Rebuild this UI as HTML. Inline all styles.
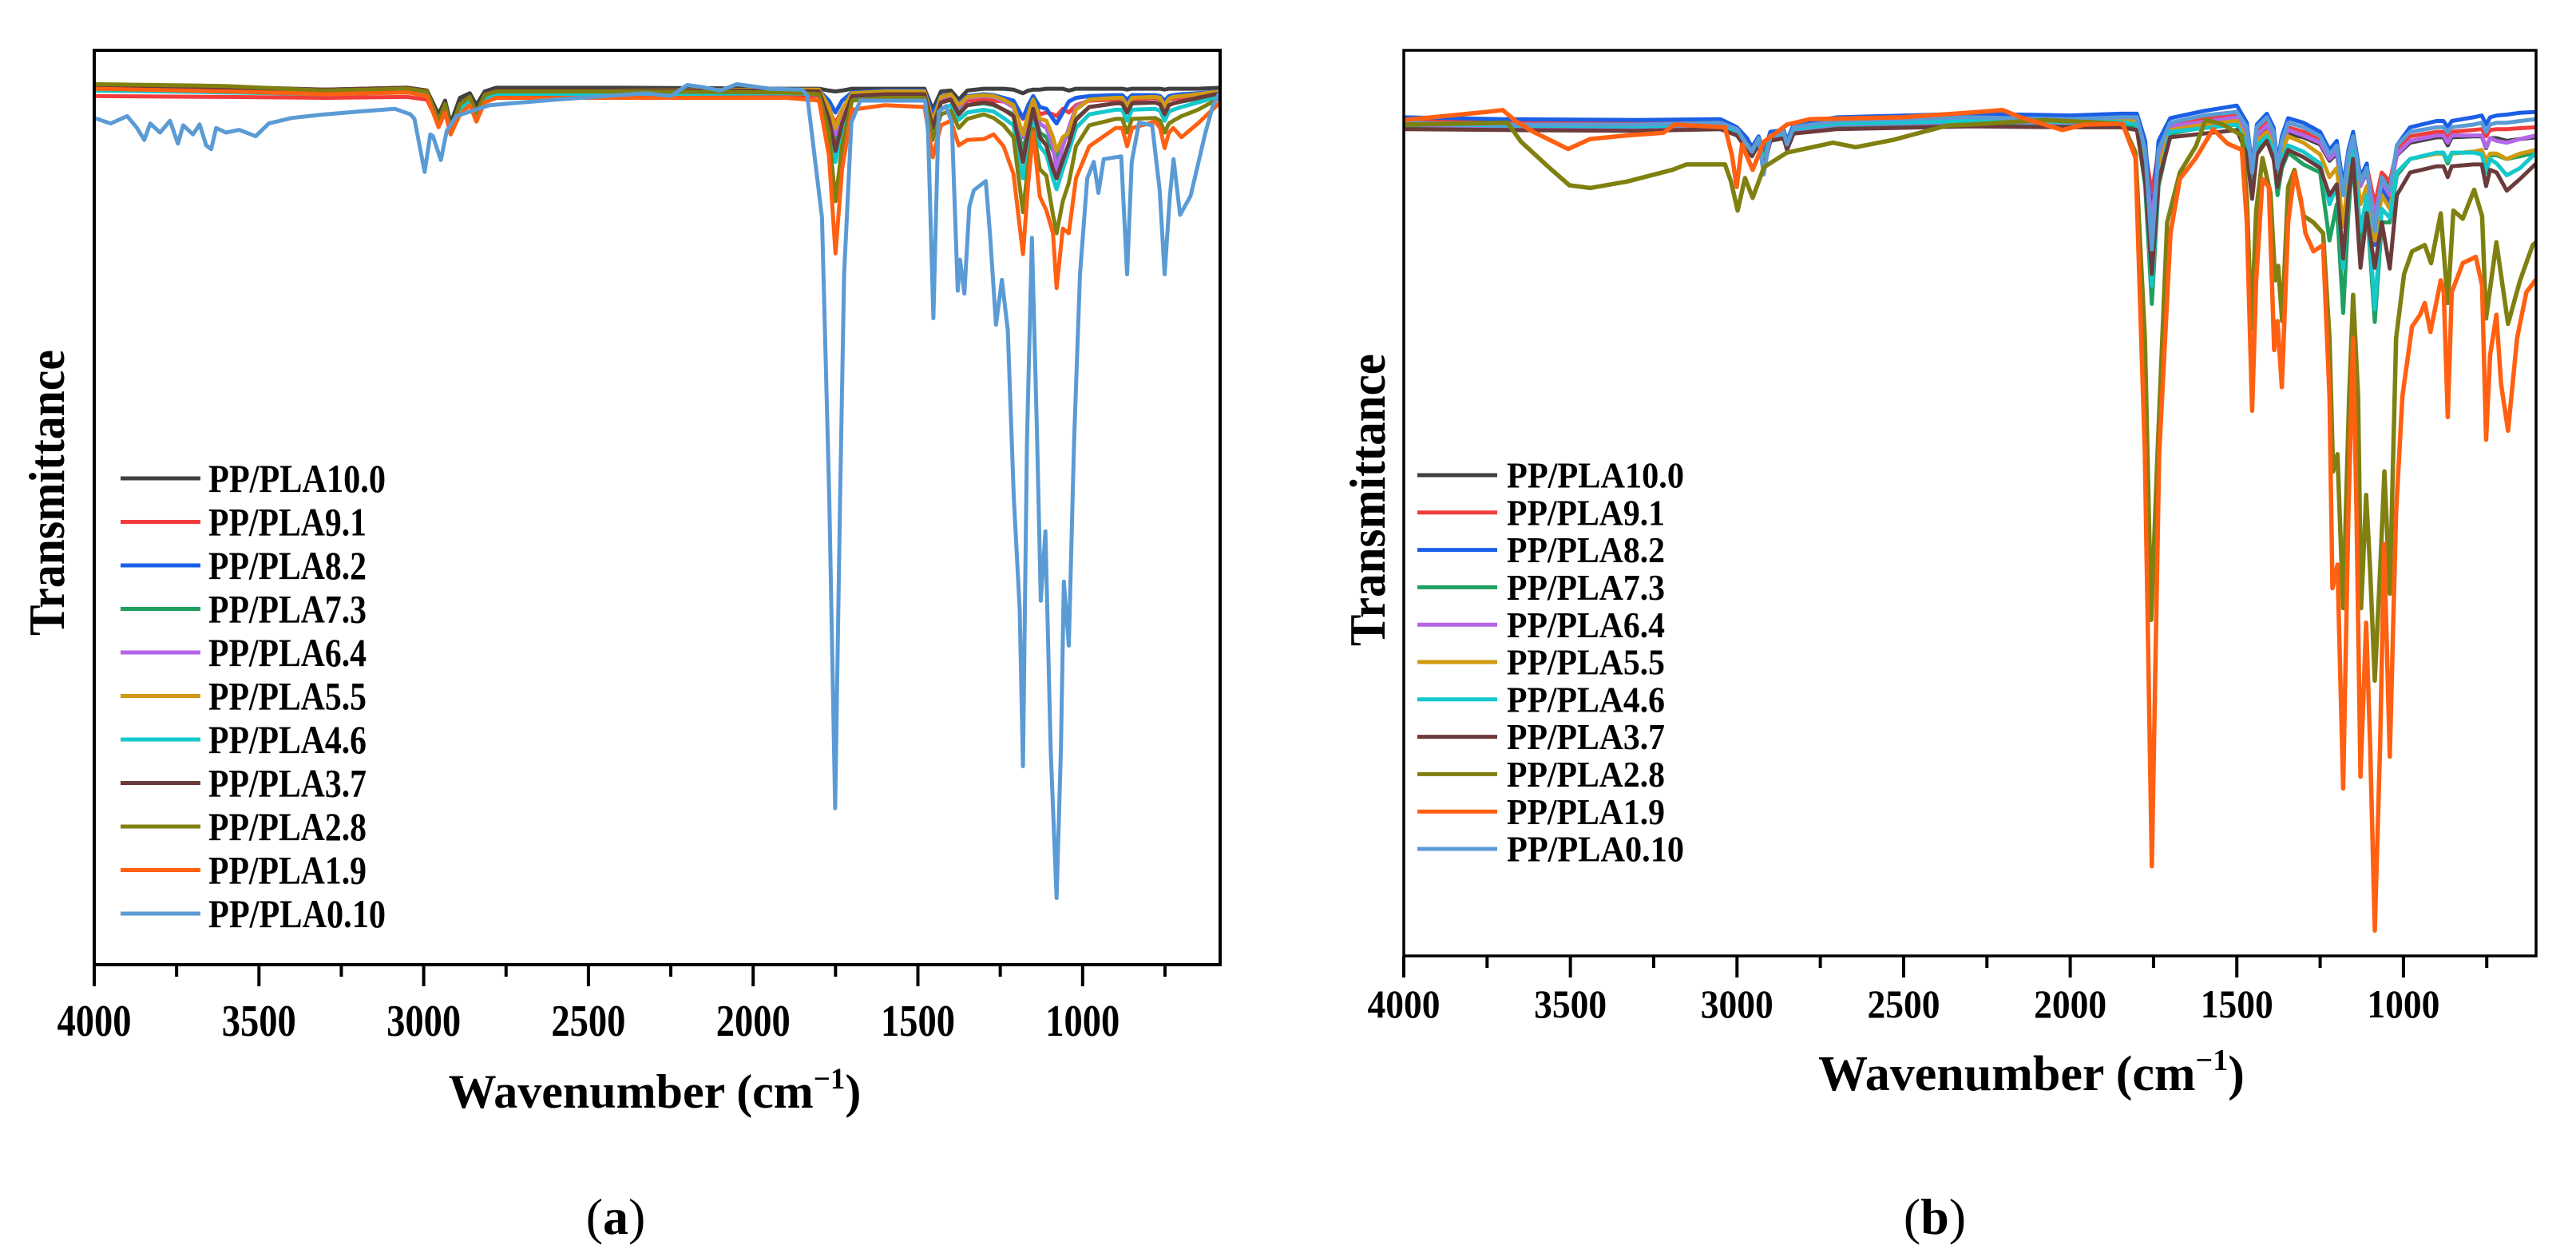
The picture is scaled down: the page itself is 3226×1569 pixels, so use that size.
<!DOCTYPE html>
<html><head><meta charset="utf-8"><title>FTIR spectra PP/PLA</title>
<style>
html,body{margin:0;padding:0;background:#fff;}
svg{display:block;font-family:"Liberation Serif",serif;font-weight:bold;}
</style></head>
<body>
<svg id="fig" width="3226" height="1569" viewBox="0 0 3226 1569" xmlns="http://www.w3.org/2000/svg">
<rect x="0" y="0" width="3226" height="1569" fill="#fff"/>
<defs>
<clipPath id="clipA"><rect x="118" y="63" width="1410" height="1145"/></clipPath>
<clipPath id="clipB"><rect x="1758" y="63" width="1418" height="1134"/></clipPath>
</defs>
<g id="panelA">
<g id="seriesA" clip-path="url(#clipA)"></g>
<rect x="118" y="63" width="1410" height="1145" fill="none" stroke="#000" stroke-width="4"/>
<g id="ticksA"></g>
<g id="legendA"></g>
<text x="820" y="1387" text-anchor="middle" font-size="60">Wavenumber (cm<tspan dy="-24" font-size="37">−1</tspan><tspan dy="24">)</tspan></text>
<text transform="translate(80,617) rotate(-90)" text-anchor="middle" font-size="64" textLength="358" lengthAdjust="spacingAndGlyphs">Transmittance</text>
<text x="771" y="1545" text-anchor="middle" font-size="64"><tspan font-weight="normal">(</tspan>a<tspan font-weight="normal">)</tspan></text>
</g>
<g id="panelB">
<g id="seriesB" clip-path="url(#clipB)"></g>
<rect x="1758" y="63" width="1418" height="1134" fill="none" stroke="#000" stroke-width="3.5"/>
<g id="ticksB"></g>
<g id="legendB"></g>
<text x="2544" y="1365" text-anchor="middle" font-size="62">Wavenumber (cm<tspan dy="-25" font-size="38">−1</tspan><tspan dy="25">)</tspan></text>
<text transform="translate(1734,626) rotate(-90)" text-anchor="middle" font-size="64" textLength="366" lengthAdjust="spacingAndGlyphs">Transmittance</text>
<text x="2423" y="1545" text-anchor="middle" font-size="64"><tspan font-weight="normal">(</tspan>b<tspan font-weight="normal">)</tspan></text>
</g>
</svg>
<script>
// ---------- shared ----------
const seriesNames = ["PP/PLA10.0","PP/PLA9.1","PP/PLA8.2","PP/PLA7.3","PP/PLA6.4","PP/PLA5.5","PP/PLA4.6","PP/PLA3.7","PP/PLA2.8","PP/PLA1.9","PP/PLA0.10"];
const seriesColors = ["#404040","#f23c3c","#1a5fe6","#20a060","#b266e8","#d09a10","#14c8cc","#6b3b3b","#7f8010","#ff6012","#5b9bd5"];
const tickMajor = [4000,3500,3000,2500,2000,1500,1000];
const tickMinor = [3750,3250,2750,2250,1750,1250,750];

// ---------- panel (a) data ----------
const gridA = [4000,3600,3300,3050,2990,2955,2935,2918,2890,2860,2840,2815,2780,2400,1900,1800,1770,1750,1730,1700,1600,1480,1455,1430,1400,1376,1350,1300,1270,1240,1210,1181,1165,1150,1130,1110,1090,1079,1060,1042,1020,980,900,880,865,850,780,765,751,738,725,700,650,583];
const a_PLA10_0 = [96.2,96.0,95.7,95.9,95.6,93.0,94.5,92.0,94.8,95.3,94.0,95.5,95.9,95.9,95.8,95.8,95.6,95.5,95.6,95.8,95.8,95.8,93.5,95.5,95.6,94.6,95.6,95.8,95.8,95.8,95.7,95.3,95.6,95.7,95.7,95.8,95.8,95.8,95.8,95.6,95.8,95.8,95.8,95.8,95.7,95.8,95.8,95.8,95.7,95.8,95.8,95.8,95.8,95.9];
const a_PLA9_1 = [95.0,94.9,94.8,94.9,94.6,92.0,93.5,91.0,93.5,94.3,92.5,94.3,94.8,94.8,95.0,95.0,93.5,92.0,93.5,94.8,95.0,95.0,92.5,94.5,94.7,93.8,94.5,94.6,94.5,94.4,94.2,92.5,93.8,94.5,93.0,93.2,93.0,92.8,93.6,93.2,94.0,94.5,94.6,94.6,94.0,94.6,94.8,94.6,94.0,94.6,94.7,94.8,95.0,95.3];
const a_PLA8_2 = [95.6,95.5,95.3,95.5,95.2,92.3,94.0,91.3,94.0,94.8,93.0,95.0,95.4,95.5,95.6,95.6,94.5,93.2,94.5,95.4,95.6,95.6,93.0,95.0,95.2,94.2,95.0,95.2,95.1,94.8,94.5,92.6,94.0,95.0,93.8,93.6,92.5,92.0,93.2,94.4,94.8,95.0,95.1,95.1,94.6,95.1,95.1,95.0,94.5,95.0,95.1,95.2,95.3,95.5];
const a_PLA7_3 = [95.8,95.6,95.4,95.6,95.3,92.0,93.8,91.0,93.8,94.6,92.8,94.8,95.3,95.3,95.4,95.4,93.0,89.6,92.5,95.0,95.2,95.2,91.5,94.3,94.6,93.2,94.0,94.2,94.0,93.5,93.0,89.0,91.5,93.5,91.0,90.5,89.0,88.2,90.0,90.8,92.5,93.8,94.2,94.2,93.2,94.2,94.3,94.1,93.2,94.0,94.2,94.4,94.7,95.2];
const a_PLA6_4 = [95.9,95.7,95.5,95.7,95.4,92.2,94.0,91.2,94.0,94.8,93.0,95.0,95.4,95.5,95.6,95.6,93.8,90.8,93.2,95.2,95.4,95.4,92.0,94.8,95.1,93.8,94.8,95.0,94.9,94.4,93.8,90.5,92.8,94.5,92.0,91.5,89.5,86.9,89.5,91.5,93.8,94.6,94.8,94.8,94.0,94.8,94.9,94.8,94.0,94.7,94.9,95.0,95.2,95.5];
const a_PLA5_5 = [96.0,95.8,95.6,95.8,95.5,92.3,94.1,91.3,94.1,94.9,93.1,95.1,95.5,95.6,95.7,95.7,93.8,91.5,93.5,95.3,95.5,95.5,92.2,94.9,95.2,94.0,94.9,95.1,95.0,94.6,94.0,90.8,93.0,94.6,92.5,92.3,90.5,89.0,90.5,91.0,93.5,94.6,94.8,94.8,93.8,94.8,94.9,94.8,93.9,94.7,94.9,95.0,95.2,95.5];
const a_PLA4_6 = [95.6,95.4,95.2,95.4,95.1,91.8,93.6,90.8,93.6,94.4,92.6,94.6,95.1,95.2,95.3,95.2,92.2,87.8,91.5,94.8,95.0,95.0,90.5,93.6,94.0,92.4,93.2,93.5,93.3,92.6,91.8,86.0,89.8,92.8,89.5,88.6,86.0,84.8,87.0,89.0,91.5,93.0,93.5,93.5,92.3,93.5,93.6,93.4,92.3,93.3,93.5,93.8,94.3,95.0];
const a_PLA3_7 = [96.1,95.9,95.7,95.9,95.6,92.4,94.2,91.4,94.2,95.0,93.2,95.2,95.6,95.6,95.6,95.5,92.5,89.0,92.0,95.0,95.2,95.2,91.5,94.3,94.6,93.0,94.0,94.3,94.1,93.5,92.8,87.8,91.0,93.6,90.5,89.6,87.0,86.0,88.0,89.8,92.4,93.8,94.2,94.2,93.2,94.2,94.3,94.1,93.0,94.0,94.2,94.4,94.8,95.3];
const a_PLA2_8 = [96.3,96.1,95.6,95.8,95.5,92.3,94.1,91.3,94.1,94.9,93.1,95.1,95.5,95.5,95.4,95.2,91.0,83.5,89.5,94.5,94.8,94.8,90.2,93.0,93.4,91.5,92.5,93.0,92.6,91.8,90.5,82.3,87.5,91.4,87.0,86.3,82.0,80.0,83.5,85.5,89.5,91.8,92.5,92.5,91.0,92.5,92.6,92.3,91.0,92.0,92.3,92.8,93.5,94.8];
const a_PLA1_9 = [95.8,95.5,95.2,95.4,95.0,91.6,93.2,90.8,93.0,94.0,92.2,94.3,94.8,94.8,94.8,94.5,88.5,77.8,87.0,93.5,94.0,93.8,88.3,91.8,92.3,89.6,90.2,90.3,90.8,89.5,86.5,77.7,85.5,91.0,84.0,82.5,80.0,74.0,80.5,80.0,86.0,89.5,91.5,91.5,89.5,91.5,92.2,91.5,89.3,91.0,91.5,90.5,92.0,94.3];
const a_PLA0_10_wn = [4000,3950,3900,3870,3848,3830,3800,3770,3746,3730,3700,3680,3660,3645,3630,3600,3560,3510,3470,3400,3300,3200,3087,3040,3028,2997,2980,2972,2948,2930,2901,2800,2600,2326,2250,2200,2157,2100,2050,1950,1852,1836,1791,1769,1751,1736,1724,1702,1675,1478,1469,1453,1437,1415,1397,1379,1372,1359,1344,1330,1294,1281,1263,1245,1227,1209,1191,1181,1169,1154,1138,1127,1113,1097,1079,1066,1057,1042,1026,1008,986,966,952,936,883,865,851,829,789,766,751,735,724,704,672,628,605,583];
const a_PLA0_10 = [92.6,92.0,92.8,91.5,90.2,92.0,91.0,92.3,89.8,91.8,90.8,91.9,89.6,89.2,91.5,91.0,91.3,90.6,92.0,92.6,93.0,93.3,93.6,93.0,92.5,86.7,90.8,90.6,88.0,91.2,92.8,94.0,94.6,95.3,95.0,96.2,96.0,95.6,96.3,95.8,95.7,95.1,81.7,51.1,17.1,51.1,75.5,92.1,94.5,94.5,90.9,70.7,93.3,93.9,92.1,73.7,77.1,73.4,82.9,84.7,85.7,79.8,70.0,74.9,69.4,51.1,38.8,21.7,57.2,79.5,57.2,39.8,47.4,23.5,7.3,23.5,41.9,34.9,57.2,75.5,86.0,87.8,84.4,88.1,88.4,75.5,87.8,92.1,91.8,84.7,75.5,84.1,88.1,82.0,84.1,90.9,93.9,95.5];

// ---------- panel (b) data ----------
const gridB = [4000,3700,3300,3050,3000,2970,2955,2935,2920,2900,2860,2850,2830,2700,2300,2000,1850,1800,1775,1755,1735,1700,1600,1500,1470,1454,1440,1410,1390,1378,1365,1346,1300,1250,1222,1200,1181,1165,1151,1129,1110,1086,1065,1041,1020,980,900,880,867,855,790,765,752,740,720,690,650,602];
const b_PLA10_0 = [91.6,91.5,91.4,91.6,90.8,89.2,88.4,89.8,86.8,90.2,90.5,89.0,91.0,91.6,91.9,91.8,91.9,91.8,88.5,83.0,88.5,91.4,91.8,92.2,90.0,84.5,90.0,91.2,89.8,86.0,89.2,90.8,90.4,89.6,87.8,88.6,84.0,87.8,89.8,85.0,86.6,82.5,86.0,84.8,88.4,89.8,90.4,90.4,89.5,90.4,90.5,90.5,89.2,90.3,90.3,90.0,90.2,90.4];
const b_PLA9_1 = [92.2,92.0,92.0,92.1,91.4,89.8,89.0,90.3,87.5,90.8,91.0,89.8,91.6,92.2,92.5,92.3,92.5,92.4,89.0,84.2,89.0,92.0,92.5,92.8,91.0,87.5,91.0,92.0,90.8,87.8,90.0,91.5,91.0,90.2,88.5,89.3,85.0,88.5,90.3,86.0,87.2,83.0,86.5,85.5,89.0,90.5,91.0,91.0,90.3,91.0,91.2,91.3,90.5,91.2,91.3,91.3,91.4,91.5];
const b_PLA8_2 = [92.6,92.4,92.3,92.4,91.5,90.3,89.3,90.5,88.5,91.0,91.2,90.0,91.8,92.6,93.0,92.8,93.0,93.0,90.0,80.5,90.0,92.5,93.3,93.9,92.0,87.0,91.8,93.0,91.5,87.5,90.5,92.5,92.0,91.0,89.0,90.0,85.0,89.0,91.0,86.0,87.5,78.5,85.0,83.0,89.5,91.5,92.2,92.2,91.5,92.2,92.6,92.8,91.8,92.6,92.8,92.9,93.1,93.2];
const b_PLA7_3 = [91.7,91.5,91.4,91.6,91.0,89.3,88.6,90.0,87.2,90.4,90.6,89.2,91.1,91.7,92.0,91.9,92.0,91.6,85.0,72.0,85.0,90.8,91.5,91.8,89.2,85.0,89.2,90.2,88.5,84.0,87.0,88.7,87.4,86.5,79.0,83.0,71.0,82.0,88.7,77.8,83.0,70.0,81.0,81.0,86.2,88.0,88.6,88.6,87.5,88.6,88.8,88.8,87.0,88.4,88.4,88.0,88.3,88.7];
const b_PLA6_4 = [91.8,91.6,91.5,91.7,91.0,89.5,88.8,90.0,87.3,90.5,90.7,89.5,91.2,91.8,92.1,92.0,92.1,92.0,88.0,81.0,88.0,91.6,92.1,92.6,90.6,86.5,90.6,91.7,90.4,87.0,89.6,91.2,90.6,89.8,88.0,88.8,84.2,88.0,90.0,85.0,86.8,81.5,85.5,84.0,88.5,90.0,90.6,90.6,89.8,90.6,90.6,90.6,89.3,90.3,90.0,89.8,90.2,90.6];
const b_PLA5_5 = [92.0,91.8,91.7,91.9,91.2,89.6,88.9,90.2,87.6,90.6,90.9,89.6,91.4,92.0,92.3,92.2,92.3,92.1,87.0,77.8,87.0,91.2,91.8,92.2,90.0,85.5,90.0,91.0,89.5,85.5,88.8,90.5,89.8,88.5,86.0,87.0,80.5,86.2,89.0,83.0,85.0,79.0,84.0,82.5,86.5,88.0,88.6,88.6,87.8,88.6,88.8,89.0,87.8,88.6,88.6,88.0,88.6,89.0];
const b_PLA4_6 = [91.9,91.7,91.6,91.8,91.1,89.5,88.8,90.1,87.4,90.5,90.8,89.4,91.3,91.9,92.2,92.1,92.1,91.8,85.5,74.0,85.5,91.0,91.4,91.8,89.5,85.5,89.5,90.5,89.0,85.0,88.0,89.5,88.8,87.5,83.0,85.0,75.9,84.5,89.0,80.0,84.0,71.4,82.5,81.5,86.5,88.0,88.7,88.7,87.8,88.7,88.7,88.5,86.5,88.0,87.5,86.2,87.0,88.7];
const b_PLA3_7 = [91.3,91.2,91.1,91.3,90.6,89.0,88.3,89.6,86.9,90.0,90.3,89.0,90.8,91.3,91.6,91.5,91.5,91.2,85.5,75.3,85.5,90.4,90.8,91.2,88.5,83.6,88.5,90.0,88.0,84.9,87.3,89.0,88.2,87.0,84.0,85.2,77.0,84.0,88.0,76.0,82.0,76.0,81.0,75.9,84.0,86.5,87.2,87.2,86.0,87.2,87.4,87.4,85.0,86.8,86.5,84.5,85.8,87.5];
const b_PLA2_8_wn = [4000,3689,3648,3565,3503,3441,3331,3194,3152,3036,3018,2998,2976,2953,2919,2850,2712,2644,2533,2368,2300,2081,1843,1804,1776,1757,1738,1709,1671,1623,1594,1547,1485,1470,1456,1442,1423,1399,1385,1376,1364,1346,1327,1299,1270,1241,1222,1211,1198,1181,1163,1151,1136,1127,1112,1100,1086,1070,1057,1041,1022,998,974,936,917,888,867,850,822,788,764,752,721,686,650,612,602];
const b_PLA2_8 = [91.8,92.0,89.9,87.1,85.1,84.8,85.5,86.8,87.4,87.4,85.5,82.3,85.9,83.7,87.1,88.7,89.8,89.3,90.1,91.7,91.8,92.3,91.9,88.7,68.2,37.1,55.4,81.0,86.5,89.4,92.3,91.9,90.6,83.6,69.2,82.3,88.1,84.2,74.6,76.2,70.1,84.9,86.8,81.7,81.0,79.8,68.2,53.5,55.4,38.4,61.8,73.0,61.8,38.4,50.9,42.6,30.4,42.6,53.5,40.0,68.2,75.3,77.8,78.5,76.5,82.0,72.1,82.3,81.4,84.6,81.7,70.4,78.8,69.8,74.6,78.5,78.8];
const b_PLA1_9_wn = [4000,3751,3703,3661,3606,3551,3507,3441,3331,3221,3187,3036,3015,3001,2985,2953,2919,2850,2781,2506,2272,2203,2148,2024,1956,1843,1804,1776,1755,1733,1699,1671,1623,1571,1528,1485,1470,1454,1442,1423,1404,1388,1378,1365,1346,1327,1308,1294,1270,1241,1222,1213,1198,1181,1165,1151,1141,1129,1112,1100,1086,1070,1058,1041,1022,1003,974,950,936,919,888,879,867,855,822,783,764,752,740,721,707,686,659,631,604];
const b_PLA1_9 = [92.3,93.2,93.4,92.1,90.9,89.9,89.1,90.2,90.6,90.9,91.8,91.5,88.4,84.9,89.6,86.8,89.9,91.8,92.4,92.6,93.2,93.4,92.6,91.2,91.8,91.9,88.1,55.4,9.9,55.4,79.8,85.8,88.1,91.3,89.7,89.0,81.0,60.2,74.6,85.8,84.9,66.9,70.1,62.8,81.0,86.5,83.6,79.8,77.8,78.5,61.8,40.6,43.2,18.5,49.0,68.2,49.0,19.8,36.8,23.3,2.8,23.3,45.5,22.0,49.0,61.8,69.5,70.8,72.1,68.9,74.6,73.3,59.5,73.3,76.5,77.2,74.0,57.0,66.3,70.8,63.1,58.0,68.2,73.3,74.6];
const b_PLA0_10 = [92.0,91.8,91.8,92.0,91.3,89.5,88.8,90.3,86.3,90.5,91.0,89.6,91.5,92.2,92.6,92.4,92.6,92.6,89.0,78.0,89.0,92.0,92.8,93.2,91.5,86.5,91.5,92.6,91.0,87.0,90.0,92.0,91.5,90.5,88.5,89.5,84.0,88.5,90.5,85.5,87.0,80.0,86.0,84.5,89.5,91.0,91.5,91.5,91.0,91.5,91.8,92.0,91.0,91.8,92.0,92.0,92.2,92.4];

// ---------- axis functions ----------
const SVGNS = "http://www.w3.org/2000/svg";
const axA = {x0:118, y0:1208, xScale:0.4126, yScale:11.45};
const axB = {x0:1758, y0:1197, xScale:0.4173, yScale:11.34};
function xPos(ax, w){ return ax.x0 + (4000 - w) * ax.xScale; }
function yPos(ax, t){ return ax.y0 - t * ax.yScale; }

function drawSeries(group, ax, wn, vals, color, width, name){
  const n = Math.min(wn.length, vals.length);
  let d = "";
  for (let i = 0; i < n; i++){
    d += (i ? "L" : "M") + xPos(ax, wn[i]).toFixed(1) + " " + yPos(ax, vals[i]).toFixed(1);
  }
  const p = document.createElementNS(SVGNS, "path");
  p.setAttribute("d", d);
  p.setAttribute("fill", "none");
  p.setAttribute("stroke", color);
  p.setAttribute("stroke-width", width);
  p.setAttribute("stroke-linejoin", "round");
  p.setAttribute("stroke-linecap", "round");
  
  
  group.appendChild(p);
}

function drawTicks(group, ax, fontSize, labelBase, labelLen){
  tickMajor.forEach(function(w){
    const x = xPos(ax, w);
    const l = document.createElementNS(SVGNS, "line");
    l.setAttribute("x1", x); l.setAttribute("x2", x);
    l.setAttribute("y1", ax.y0); l.setAttribute("y2", ax.y0 + 27);
    l.setAttribute("stroke", "#000"); l.setAttribute("stroke-width", "4");
    
    
    group.appendChild(l);
    const t = document.createElementNS(SVGNS, "text");
    t.setAttribute("x", x); t.setAttribute("y", labelBase);
    t.setAttribute("text-anchor", "middle");
    t.setAttribute("font-size", fontSize);
    t.setAttribute("textLength", labelLen);
    t.setAttribute("lengthAdjust", "spacingAndGlyphs");
    t.textContent = String(w);
    
    
    group.appendChild(t);
  });
  tickMinor.forEach(function(w){
    const x = xPos(ax, w);
    const l = document.createElementNS(SVGNS, "line");
    l.setAttribute("x1", x); l.setAttribute("x2", x);
    l.setAttribute("y1", ax.y0); l.setAttribute("y2", ax.y0 + 15);
    l.setAttribute("stroke", "#000"); l.setAttribute("stroke-width", "4");
    
    
    group.appendChild(l);
  });
}

function drawLegend(group, top, step, lx1, lx2, tx, fontSize, lw){
  seriesNames.forEach(function(nm, i){
    const y = top + i * step;
    const l = document.createElementNS(SVGNS, "line");
    l.setAttribute("x1", lx1); l.setAttribute("x2", lx2);
    l.setAttribute("y1", y); l.setAttribute("y2", y);
    l.setAttribute("stroke", seriesColors[i]); l.setAttribute("stroke-width", lw);
    
    
    group.appendChild(l);
    const t = document.createElementNS(SVGNS, "text");
    t.setAttribute("x", tx); t.setAttribute("y", y + fontSize * 0.34);
    t.setAttribute("font-size", fontSize);
    t.setAttribute("textLength", nm.length >= 10 ? 222 : 198);
    t.setAttribute("lengthAdjust", "spacingAndGlyphs");
    t.textContent = nm;
    
    
    group.appendChild(t);
  });
}

// ---------- render panel a ----------
const gA = document.getElementById("seriesA");
const aSets = [a_PLA10_0,a_PLA9_1,a_PLA8_2,a_PLA7_3,a_PLA6_4,a_PLA5_5,a_PLA4_6,a_PLA3_7,a_PLA2_8,a_PLA1_9];
aSets.forEach(function(vals, i){
  drawSeries(gA, axA, gridA, vals, seriesColors[i], 5, "a-series-" + i);
});
drawSeries(gA, axA, a_PLA0_10_wn, a_PLA0_10, seriesColors[10], 5, "a-series-pla0-10");
drawTicks(document.getElementById("ticksA"), axA, 56, 1297, 93);
drawLegend(document.getElementById("legendA"), 599, 54.5, 151, 251, 261, 50, 5);

// ---------- render panel b ----------
const gB = document.getElementById("seriesB");
const bSets = [b_PLA10_0,b_PLA9_1,b_PLA8_2,b_PLA7_3,b_PLA6_4,b_PLA5_5,b_PLA4_6,b_PLA3_7];
bSets.forEach(function(vals, i){
  drawSeries(gB, axB, gridB, vals, seriesColors[i], 5, "b-series-" + i);
});
drawSeries(gB, axB, gridB, b_PLA0_10, seriesColors[10], 5, "b-series-pla0-10");
drawSeries(gB, axB, b_PLA2_8_wn, b_PLA2_8, seriesColors[8], 5.5, "b-series-pla2-8");
drawSeries(gB, axB, b_PLA1_9_wn, b_PLA1_9, seriesColors[9], 5.5, "b-series-pla1-9");
drawTicks(document.getElementById("ticksB"), axB, 50, 1274, 91);
drawLegend(document.getElementById("legendB"), 595, 46.8, 1775, 1875, 1887, 46, 5);
</script>
</body></html>
